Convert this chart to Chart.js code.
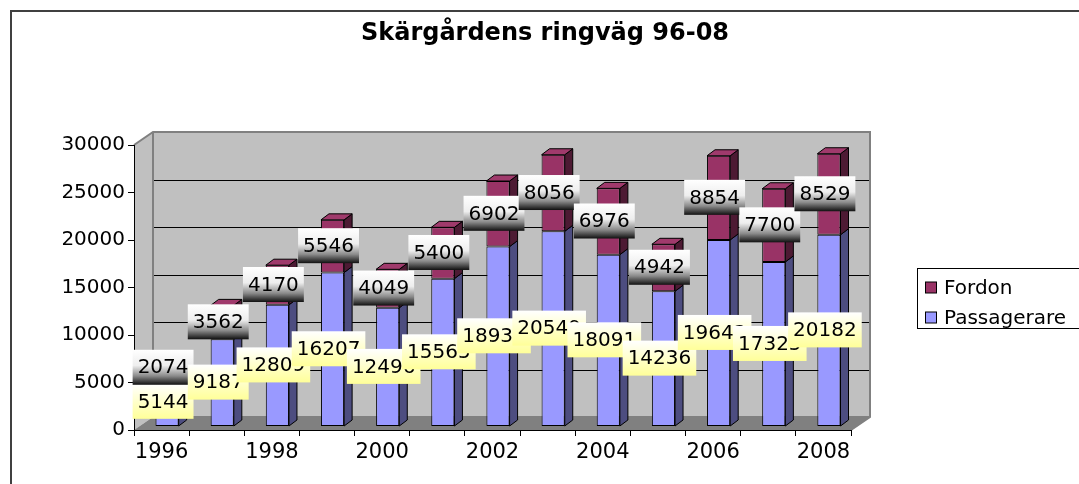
<!DOCTYPE html>
<html>
<head>
<meta charset="utf-8">
<script src="https://cdn.jsdelivr.net/npm/chart.js@4.4.0/dist/chart.umd.min.js"></script>
<style>
html, body { margin: 0; padding: 0; background: #fff; }
#wrap { width: 1079px; height: 484px; }
</style>
</head>
<body>
<div id="wrap"><canvas id="chart" width="1079" height="484"></canvas></div>
<script>
// Data
const years = ['1996', '1997', '1998', '1999', '2000', '2001', '2002', '2003', '2004', '2005', '2006', '2007', '2008'];
const passagerare = [5144, 9187, 12809, 16207, 12496, 15565, 18937, 20549, 18091, 14236, 19643, 17325, 20182];
const fordon = [2074, 3562, 4170, 5546, 4049, 5400, 6902, 8056, 6976, 4942, 8854, 7700, 8529];
const yTicks = [0, 5000, 10000, 15000, 20000, 25000, 30000];

const FONT = "'DejaVu Sans', Verdana, sans-serif";

// depth of the walls and of the bars (pseudo 3D)
const DX = 19, DY = 13;
const BX = 8, BY = 6;
const SHIFT_X = 5.5, SHIFT_Y = -3.5;

const colors = {
    pass: '#9999ff', passSide: '#4d4d80',
    ford: '#993366', fordSide: '#4d1a33', fordTop: '#a03a6c'
};

function poly(ctx, pts, fill, stroke) {
    ctx.beginPath();
    ctx.moveTo(pts[0][0], pts[0][1]);
    for (let i = 1; i < pts.length; i++) ctx.lineTo(pts[i][0], pts[i][1]);
    ctx.closePath();
    if (fill) { ctx.fillStyle = fill; ctx.fill(); }
    if (stroke) { ctx.strokeStyle = stroke; ctx.stroke(); }
}

const threeD = {
    id: 'threeD',
    beforeDraw(chart) {
        const ctx = chart.ctx;
        const a = chart.chartArea;
        const y = chart.scales.y;
        ctx.save();
        ctx.fillStyle = '#fff';
        ctx.fillRect(0, 0, chart.width, chart.height);

        // back wall, side wall, floor
        poly(ctx, [[a.left + DX, a.top - DY], [a.right + DX, a.top - DY], [a.right + DX, a.bottom - DY], [a.left + DX, a.bottom - DY]], '#c0c0c0', null);
        poly(ctx, [[a.left, a.top], [a.left + DX, a.top - DY], [a.left + DX, a.bottom - DY], [a.left, a.bottom]], '#c0c0c0', null);
        poly(ctx, [[a.left, a.bottom], [a.left + DX, a.bottom - DY], [a.right + DX, a.bottom - DY], [a.right, a.bottom]], '#808080', null);

        // gridlines on the back wall
        ctx.lineWidth = 1;
        ctx.strokeStyle = '#000';
        yTicks.forEach(v => {
            if (v === 0) return;
            const py = Math.round(y.getPixelForValue(v) - DY) + 0.5;
            ctx.beginPath();
            ctx.moveTo(a.left + DX, py);
            ctx.lineTo(a.right + DX, py);
            ctx.stroke();
        });

        // wall edges
        ctx.lineWidth = 2;
        ctx.strokeStyle = '#808080';
        ctx.beginPath();
        ctx.moveTo(a.left, a.top);
        ctx.lineTo(a.left + DX, a.top - DY);
        ctx.lineTo(a.right + DX, a.top - DY);
        ctx.lineTo(a.right + DX, a.bottom - DY);
        ctx.lineTo(a.right, a.bottom);
        ctx.moveTo(a.left + DX, a.top - DY);
        ctx.lineTo(a.left + DX, a.bottom - DY);
        ctx.lineTo(a.right + DX, a.bottom - DY);
        ctx.stroke();
        ctx.restore();
    },
    beforeDatasetsDraw(chart) {
        chart.ctx.save();
        chart.ctx.translate(SHIFT_X, SHIFT_Y);
    },
    afterDatasetsDraw(chart) {
        const ctx = chart.ctx;
        ctx.lineWidth = 1;
        const sides = [colors.passSide, colors.fordSide];
        chart.data.datasets.forEach((ds, di) => {
            const meta = chart.getDatasetMeta(di);
            meta.data.forEach(el => {
                const p = el.getProps(['x', 'y', 'base', 'width'], true);
                const l = p.x - p.width / 2, r = p.x + p.width / 2;
                const t = Math.min(p.y, p.base), b = Math.max(p.y, p.base);
                poly(ctx, [[r, t], [r + BX, t - BY], [r + BX, b - BY], [r, b]], sides[di], '#000');
                if (di === chart.data.datasets.length - 1) {
                    poly(ctx, [[l, t], [l + BX, t - BY], [r + BX, t - BY], [r, t]], colors.fordTop, '#000');
                }
            });
        });
        ctx.restore();

        // value labels
        ctx.save();
        ctx.font = '20px ' + FONT;
        ctx.textAlign = 'center';
        ctx.textBaseline = 'middle';
        const metas = [chart.getDatasetMeta(0), chart.getDatasetMeta(1)];
        years.forEach((yr, i) => {
            metas.forEach((meta, di) => {
                const el = meta.data[i];
                const p = el.getProps(['x', 'y', 'base'], true);
                const text = String(chart.data.datasets[di].data[i]);
                const cx = p.x + 1.5;
                const cy = (p.y + p.base) / 2 - 4;
                const w = ctx.measureText(text).width + 10;
                const h = 35;
                const g = ctx.createLinearGradient(0, cy - h / 2, 0, cy + h / 2);
                if (di === 0) {
                    g.addColorStop(0, '#ffffff');
                    g.addColorStop(1, '#ffff99');
                } else {
                    g.addColorStop(0, '#ffffff');
                    g.addColorStop(0.45, '#eeeeee');
                    g.addColorStop(0.75, '#8a8a8a');
                    g.addColorStop(1, '#101010');
                }
                ctx.fillStyle = g;
                ctx.fillRect(cx - w / 2, cy - h / 2, w, h);
                ctx.fillStyle = '#000';
                ctx.fillText(text, cx, cy + 1);
            });
        });
        ctx.restore();
    },
    afterDraw(chart) {
        const ctx = chart.ctx;
        ctx.save();
        // outer frame
        ctx.strokeStyle = '#404040';
        ctx.lineWidth = 2;
        ctx.beginPath();
        ctx.moveTo(11, chart.height);
        ctx.lineTo(11, 11);
        ctx.lineTo(chart.width, 11);
        ctx.stroke();

        // title
        ctx.fillStyle = '#000';
        ctx.font = 'bold 24px ' + FONT;
        ctx.textAlign = 'center';
        ctx.textBaseline = 'middle';
        ctx.fillText('Skärgårdens ringväg 96-08', 545, 34);

        // legend
        ctx.lineWidth = 1;
        ctx.strokeStyle = '#000';
        ctx.fillStyle = '#fff';
        ctx.fillRect(917.5, 268.5, 170, 60);
        ctx.strokeRect(917.5, 268.5, 170, 60);
        const items = [['Fordon', colors.ford, 287.5], ['Passagerare', colors.pass, 317.5]];
        ctx.font = '20px ' + FONT;
        ctx.textAlign = 'left';
        items.forEach(([label, col, yy]) => {
            ctx.fillStyle = col;
            ctx.fillRect(925.5, yy - 5.5, 11, 11);
            ctx.strokeRect(925.5, yy - 5.5, 11, 11);
            ctx.fillStyle = '#000';
            ctx.fillText(label, 944, yy + 1);
        });
        ctx.restore();
    }
};

new Chart(document.getElementById('chart'), {
    type: 'bar',
    data: {
        labels: years,
        datasets: [
            { label: 'Passagerare', data: passagerare, backgroundColor: colors.pass },
            { label: 'Fordon', data: fordon, backgroundColor: colors.ford }
        ]
    },
    options: {
        responsive: false,
        animation: false,
        devicePixelRatio: 1,
        layout: { padding: { left: 0, top: 145, right: 228, bottom: 0 } },
        datasets: {
            bar: {
                borderColor: '#000',
                borderWidth: 1,
                borderSkipped: false,
                categoryPercentage: 1,
                barPercentage: 0.42,
                clip: false
            }
        },
        plugins: {
            legend: { display: false },
            title: { display: false },
            tooltip: { enabled: false }
        },
        scales: {
            x: {
                stacked: true,
                afterFit(scale) { scale.height = 54; },
                grid: { offset: true, drawOnChartArea: false, drawTicks: true, tickLength: 6, color: '#000' },
                border: { display: true, color: '#000', width: 1 },
                ticks: {
                    autoSkip: false,
                    maxRotation: 0,
                    padding: 4,
                    color: '#000',
                    font: { family: FONT, size: 21 },
                    callback: (val, i) => (i % 2 === 0 ? years[i] : '')
                }
            },
            y: {
                stacked: true,
                min: 0,
                max: 30000,
                afterFit(scale) { scale.width = 134; },
                grid: { drawOnChartArea: false, drawTicks: true, tickLength: 6, color: '#000' },
                border: { display: true, color: '#000', width: 1 },
                ticks: {
                    stepSize: 5000,
                    padding: 3,
                    color: '#000',
                    font: { family: FONT, size: 20 },
                    callback: v => String(v)
                }
            }
        }
    },
    plugins: [threeD]
});
</script>
</body>
</html>
